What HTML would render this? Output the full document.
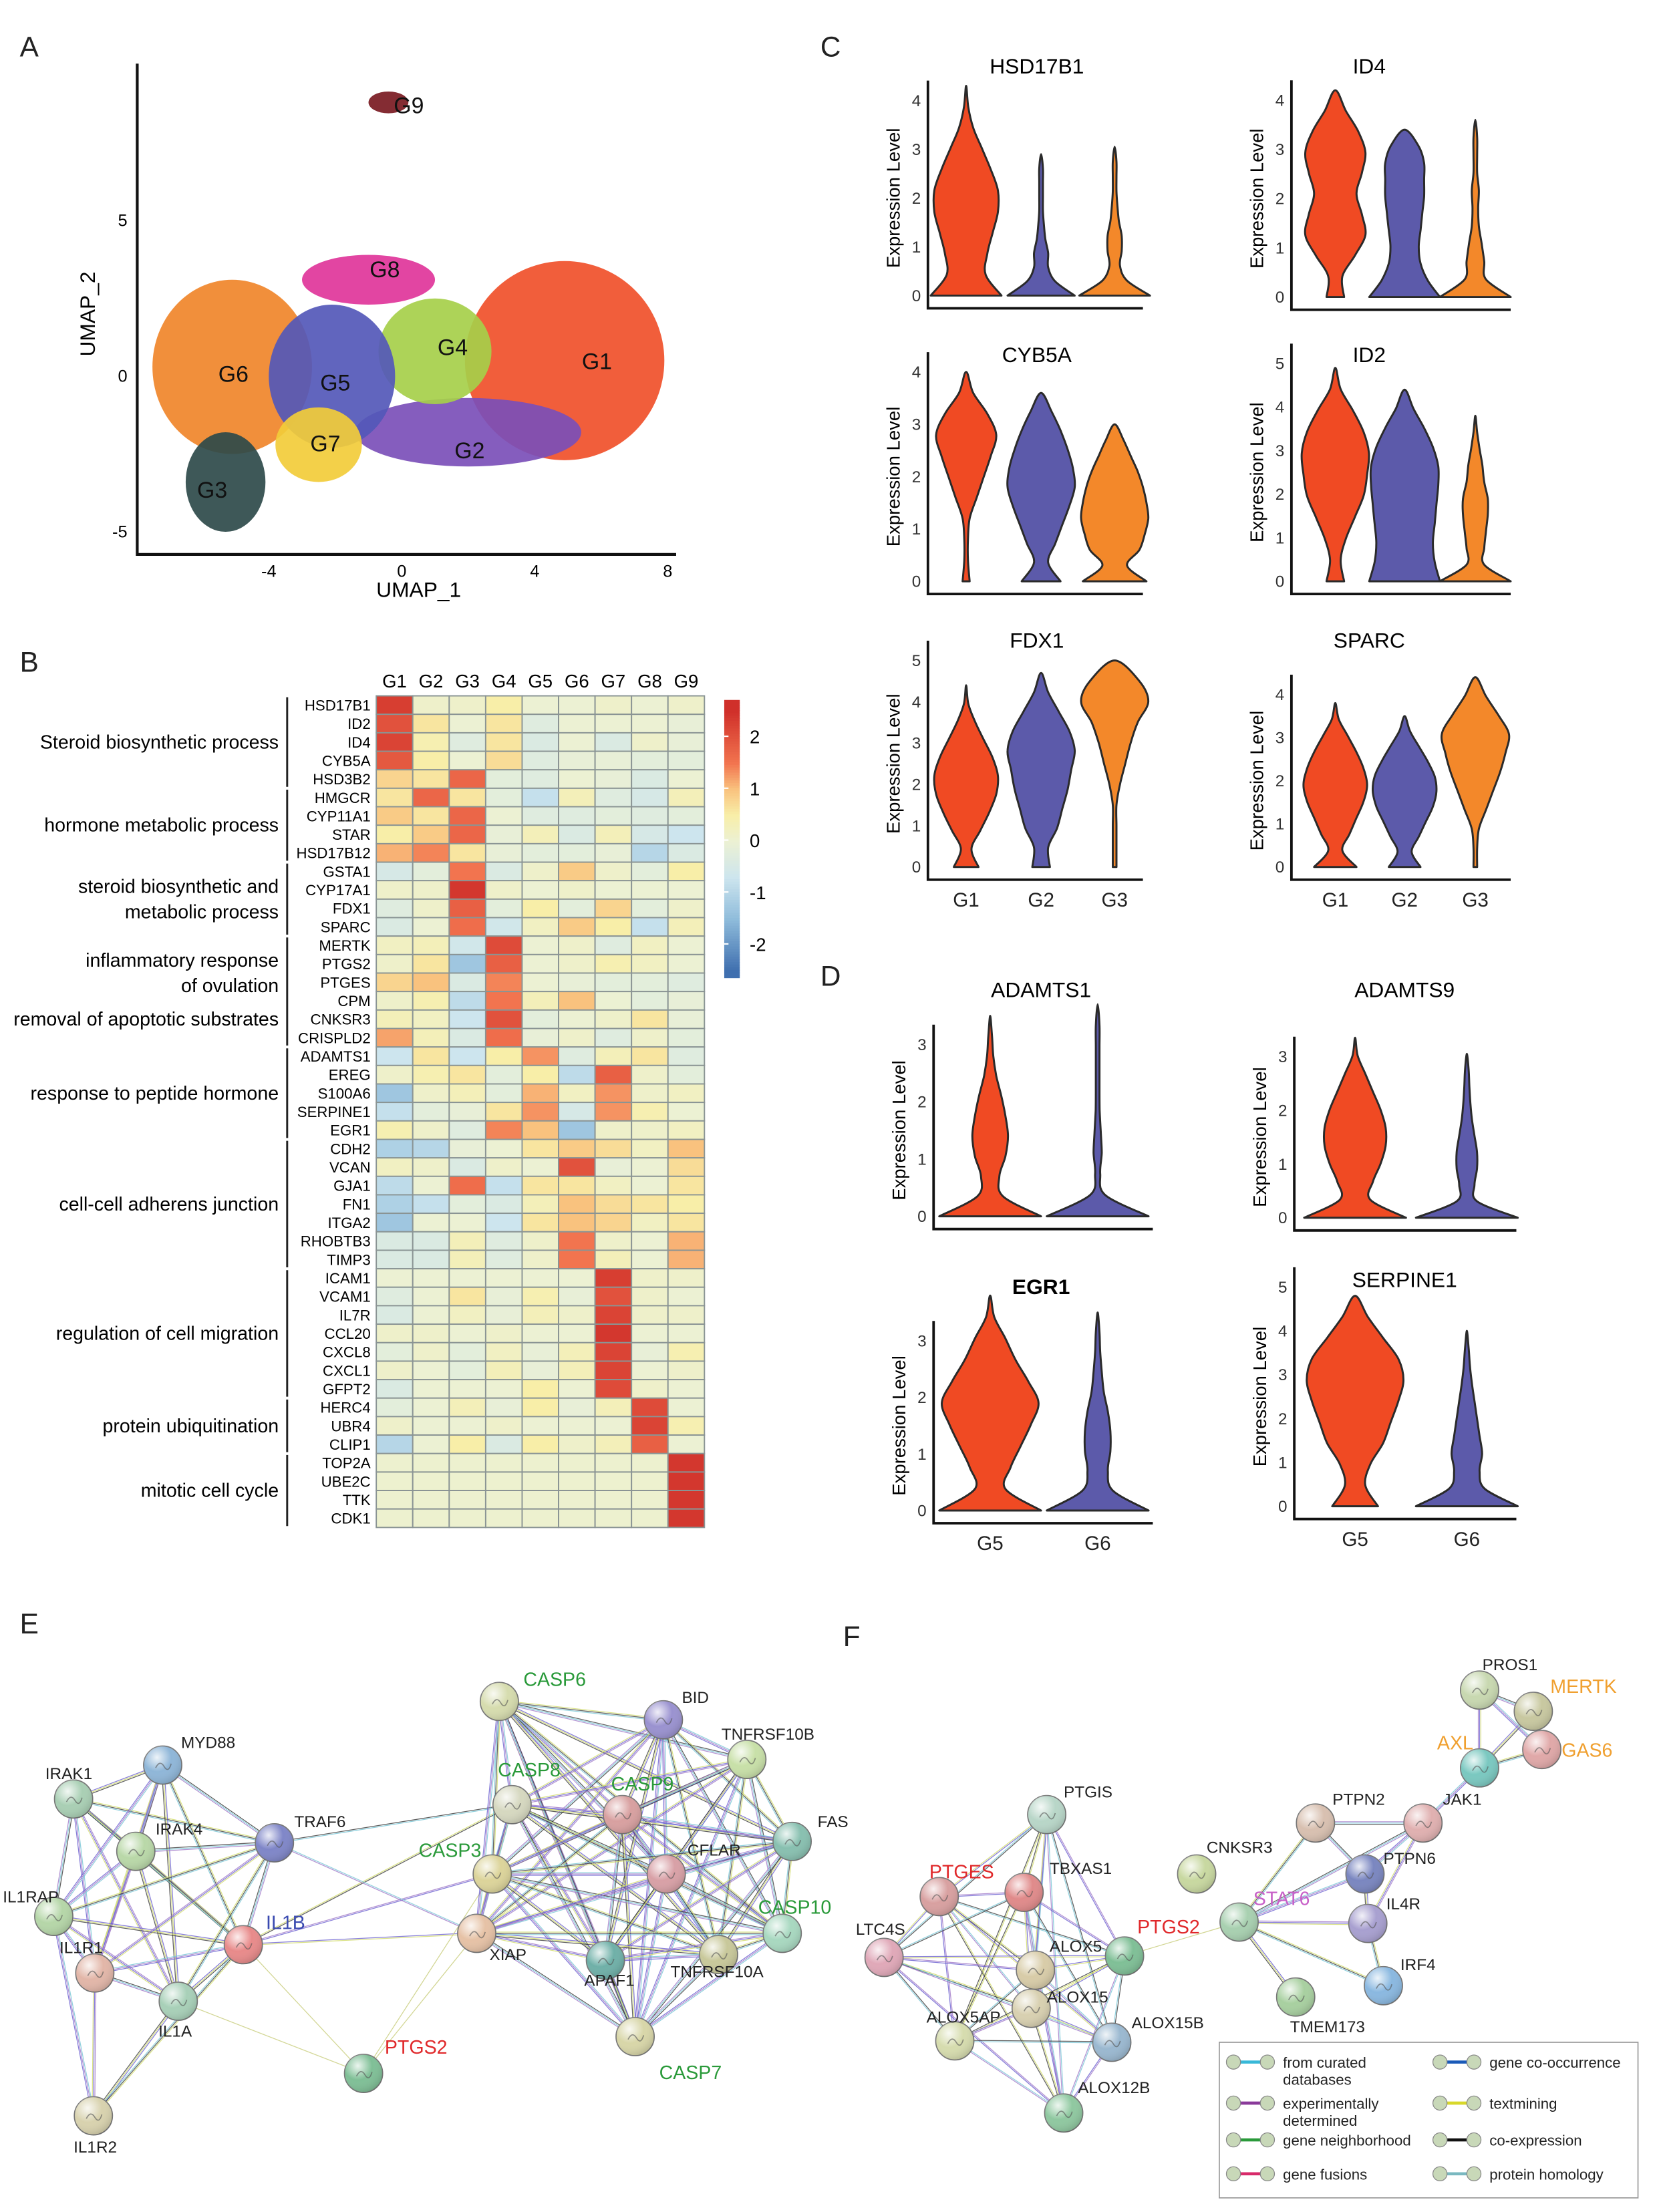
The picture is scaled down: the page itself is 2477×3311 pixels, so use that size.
<!DOCTYPE html>
<html><head><meta charset="utf-8">
<style>
html,body{margin:0;padding:0;background:#fff;}
svg{display:block;font-family:"Liberation Sans",Arial,sans-serif;}
</style></head>
<body>
<svg id="fig" xmlns="http://www.w3.org/2000/svg" width="2477" height="3311" viewBox="0 0 1170 1564">
<defs>
<radialGradient id="nodeGrad" cx="35%" cy="30%" r="75%"><stop offset="0" stop-color="#fff" stop-opacity="0.85"/><stop offset="0.5" stop-color="#fff" stop-opacity="0"/><stop offset="1" stop-color="#000" stop-opacity="0.15"/></radialGradient>
</defs>
<g font-size="20" fill="#222">
<text x="14" y="40">A</text>
<text x="14" y="475">B</text>
<text x="580" y="40">C</text>
<text x="580" y="697">D</text>
<text x="14" y="1155">E</text>
<text x="596" y="1164">F</text>
</g>
<g id="umap"></g>
<g id="heat"></g>
<g id="violins"></g>
<g id="netE"></g>
<g id="netF"></g>
</svg>
<script>
// ===== UMAP data =====
const umapClusters = ["G1","G2","G4","G6","G5","G7","G3","G8","G9"];
const umapCx = [4.9, 2.0, 1.0, -5.1, -2.1, -2.5, -5.3, -1.0, -0.4];
const umapCy = [0.5, -1.8, 0.8, 0.3, 0.0, -2.2, -3.4, 3.1, 8.8];
const umapRx = [3.0, 3.4, 1.7, 2.4, 1.9, 1.3, 1.2, 2.0, 0.6];
const umapRy = [3.2, 1.1, 1.7, 2.8, 2.3, 1.2, 1.6, 0.8, 0.35];
const umapColors = ["#f0502a","#7b4fb8","#a6cf4a","#f0862a","#5458b8","#f2cc3a","#2e4a4a","#e0359a","#7a1a22"];
const umapXTicks = [-4, 0, 4, 8];
const umapYTicks = [-5, 0, 5];

// ===== Heatmap data =====
const heatGenes = ["HSD17B1","ID2","ID4","CYB5A","HSD3B2","HMGCR","CYP11A1","STAR","HSD17B12","GSTA1","CYP17A1","FDX1","SPARC","MERTK","PTGS2","PTGES","CPM","CNKSR3","CRISPLD2","ADAMTS1","EREG","S100A6","SERPINE1","EGR1","CDH2","VCAN","GJA1","FN1","ITGA2","RHOBTB3","TIMP3","ICAM1","VCAM1","IL7R","CCL20","CXCL8","CXCL1","GFPT2","HERC4","UBR4","CLIP1","TOP2A","UBE2C","TTK","CDK1"];
const heatGroups = ["G1","G2","G3","G4","G5","G6","G7","G8","G9"];
const heatValues = [
[2.3,0.1,0.1,0.5,0,0,0.1,0,0.1],
[2.0,0.6,0,0.6,-0.3,0,0,0,-0.1],
[2.2,0.4,-0.3,0.6,-0.4,0,-0.4,0.1,-0.1],
[1.9,0.5,0,0.7,-0.3,-0.1,-0.1,-0.2,-0.2],
[0.8,0.6,1.7,-0.2,-0.3,0,-0.1,-0.4,0],
[0.6,1.7,0.6,-0.2,-0.8,0.3,-0.3,-0.5,0.3],
[0.9,0.6,1.7,0,-0.3,-0.3,-0.2,-0.3,-0.2],
[0.5,0.9,1.7,-0.1,0.3,-0.4,0.3,-0.5,-0.7],
[1.1,1.4,0.6,-0.1,-0.2,-0.2,-0.1,-1.0,-0.4],
[-0.5,-0.2,1.5,-0.4,0.1,0.9,0.1,-0.2,0.5],
[0.1,0.1,2.4,0.1,0,0.1,0,0,0],
[-0.3,0.1,1.8,-0.2,0.5,-0.2,0.8,-0.2,0.1],
[-0.4,0,1.6,-0.6,0.2,0.9,0.5,-0.8,0.3],
[0.2,0.3,-0.6,2.1,0,0.1,-0.3,0.2,0],
[0.1,0.6,-1.3,1.8,0,0.1,0.4,0.2,0],
[0.8,1.0,-0.4,1.4,0,-0.1,-0.2,-0.2,-0.3],
[0.1,0.4,-0.9,1.5,0.3,1.0,0,-0.2,-0.1],
[0.3,0.2,-0.7,2.0,-0.2,0,0.1,0.6,-0.1],
[1.2,0.3,-0.4,1.6,-0.1,0.1,-0.3,0.1,-0.2],
[-0.7,0.6,-0.7,0.5,1.3,-0.3,0.3,0.6,-0.3],
[0.1,0.4,0.6,-0.2,0.5,-0.9,1.8,0.1,-0.2],
[-1.3,0.1,0.3,-0.2,1.1,0.2,1.3,0.1,0.2],
[-0.8,-0.2,-0.1,0.6,1.3,-0.5,1.3,0.4,0],
[0.4,0.1,-0.3,1.4,1.0,-1.3,0.1,0.1,0.2],
[-1.1,-1.0,-0.1,0,0.6,0.9,0.7,0.2,1.0],
[0.2,0.1,-0.4,0.1,0,2.0,-0.1,0,0.7],
[-0.9,0,1.6,-0.8,0.6,0.6,0.2,0,0.6],
[-1.1,-0.8,-0.2,-0.4,0.3,1.0,0.7,0.6,0.5],
[-1.3,0,0,-0.7,0.6,1.0,0.8,0.2,0.6],
[-0.4,-0.4,0.3,-0.3,0.1,1.5,0.1,0,1.1],
[-0.4,-0.4,0.3,-0.3,0.1,1.5,0.3,0,1.1],
[0,0,0,0,0,0,2.3,0.1,0.1],
[-0.3,0,0.6,-0.1,0.4,-0.1,2.0,0.1,0],
[-0.4,0,0.2,-0.1,0.3,0.1,2.2,0.1,0.1],
[0.1,0.1,0,0.1,0,0,2.4,0,0],
[-0.2,0.1,-0.2,0.2,-0.1,0.3,2.2,-0.1,0.4],
[0.1,0,-0.2,0.3,-0.1,0.3,2.2,0,0.1],
[-0.4,0,0,0,0.5,0,2.1,0.1,0],
[-0.2,0,0.3,-0.1,0.5,-0.1,0.3,2.1,0],
[0.1,0,0,0.1,0,0,0,2.2,0.4],
[-1.0,0,0.5,-0.4,0.5,0.1,0.3,1.8,0],
[0.05,0.05,0.05,0.05,0.05,0.05,0.05,0.05,2.4],
[0.05,0.05,0.05,0.05,0.05,0.05,0.05,0.05,2.4],
[0.05,0.05,0.05,0.05,0.05,0.05,0.05,0.05,2.4],
[0.05,0.05,0.05,0.05,0.05,0.05,0.05,0.05,2.4]
];
const colorbarTicks = [2,1,0,-1,-2];
const termLabels = [["Steroid biosynthetic process"],["hormone metabolic process"],["steroid biosynthetic and","metabolic process"],["inflammatory response","of ovulation"],["removal of apoptotic substrates"],["response to peptide hormone"],["cell-cell adherens junction"],["regulation of cell migration"],["protein ubiquitination"],["mitotic cell cycle"]];
const termStart = [0,5,9,13,16,19,24,31,38,41];
const termEnd   = [4,8,12,16,18,23,30,37,40,44];

// ===== Violin data =====
const violinTitles = ["HSD17B1","ID4","CYB5A","ID2","FDX1","SPARC","ADAMTS1","ADAMTS9","EGR1","SERPINE1"];
const violinYMax = [4,4,4,5,5,4,3,3,3,5];
const violinGroupsC = ["G1","G2","G3"];
const violinGroupsD = ["G5","G6"];
const vMax = [
[4.3,2.9,3.05],[4.2,3.4,3.6],[4.0,3.6,3.0],[4.9,4.4,3.8],[4.4,4.7,5.0],[3.8,3.5,4.4],
[3.5,3.7],[3.35,3.05],[3.8,3.5],[4.8,4.0]];
const vDens = [
[[1.0,0.55,0.6,0.75,0.9,0.9,0.7,0.45,0.2,0.06,0],[0.95,0.4,0.2,0.2,0.12,0.08,0.05,0.04,0.03,0.02,0],[1.0,0.35,0.15,0.2,0.2,0.12,0.08,0.05,0.03,0.02,0]],
[[0.25,0.2,0.55,0.85,0.75,0.6,0.75,0.85,0.65,0.3,0],[1.0,0.65,0.45,0.4,0.45,0.5,0.55,0.55,0.55,0.4,0],[1.0,0.3,0.25,0.18,0.1,0.08,0.1,0.05,0.03,0.02,0]],
[[0.1,0.05,0.05,0.1,0.3,0.5,0.7,0.85,0.6,0.2,0],[0.55,0.2,0.4,0.6,0.8,0.95,0.9,0.75,0.55,0.3,0],[0.9,0.35,0.7,0.85,0.95,0.9,0.8,0.65,0.45,0.25,0]],
[[0.25,0.15,0.3,0.55,0.8,0.9,0.95,0.8,0.5,0.15,0],[1.0,0.85,0.8,0.85,0.9,0.95,0.95,0.8,0.55,0.25,0],[1.0,0.25,0.25,0.3,0.35,0.35,0.25,0.2,0.12,0.05,0]],
[[0.35,0.15,0.4,0.65,0.85,0.9,0.75,0.5,0.25,0.06,0],[0.25,0.2,0.45,0.6,0.75,0.85,0.95,0.8,0.5,0.2,0],[0.03,0.03,0.03,0.05,0.15,0.3,0.45,0.65,0.95,0.7,0]],
[[0.6,0.2,0.4,0.6,0.8,0.9,0.8,0.6,0.35,0.1,0],[0.45,0.2,0.4,0.6,0.8,0.9,0.85,0.65,0.4,0.15,0],[0.03,0.03,0.1,0.3,0.5,0.7,0.85,0.95,0.65,0.3,0]],
[[1.0,0.25,0.18,0.3,0.35,0.3,0.22,0.12,0.06,0.03,0],[1.0,0.15,0.05,0.08,0.06,0.04,0.03,0.02,0.02,0.01,0]],
[[1.0,0.3,0.35,0.5,0.6,0.6,0.5,0.35,0.2,0.05,0],[1.0,0.2,0.15,0.2,0.2,0.15,0.1,0.07,0.05,0.02,0]],
[[1.0,0.3,0.4,0.6,0.8,0.95,0.75,0.5,0.3,0.08,0],[1.0,0.3,0.2,0.25,0.25,0.2,0.12,0.08,0.05,0.02,0]],
[[0.45,0.2,0.3,0.55,0.7,0.85,0.95,0.85,0.55,0.25,0],[1.0,0.35,0.25,0.3,0.25,0.2,0.15,0.1,0.06,0.03,0]]
];

const NS="http://www.w3.org/2000/svg";
function mk(parent, tag, attrs, txt){const e=document.createElementNS(NS,tag);for(const k in attrs)e.setAttribute(k,attrs[k]);if(txt!==undefined)e.textContent=txt;parent.appendChild(e);return e;}

// ===== UMAP =====
(function(){
const g=document.getElementById('umap');
const sx=v=>284+v*23.5, sy=v=>266-v*22;
umapClusters.forEach((c,i)=>{
  const el=mk(g,'ellipse',{cx:sx(umapCx[i]),cy:sy(umapCy[i]),rx:umapRx[i]*23.5,ry:umapRy[i]*22,fill:umapColors[i],opacity:0.92});
  
  
});
const ax=mk(g,'path',{d:'M97,45 L97,392 L478,392',fill:'none',stroke:'#111','stroke-width':2});


umapXTicks.forEach(v=>{const t=mk(g,'text',{x:sx(v),y:408,'font-size':12,'text-anchor':'middle'},String(v));

});
umapYTicks.forEach(v=>{const t=mk(g,'text',{x:90,y:sy(v)+4,'font-size':12,'text-anchor':'end'},String(v));

});
const xl=mk(g,'text',{x:296,y:422,'font-size':15,'text-anchor':'middle'},'UMAP_1');


const yl=mk(g,'text',{x:0,y:0,'font-size':15,'text-anchor':'middle',transform:'translate(67,222) rotate(-90)'},'UMAP_2');


const labPos={G9:[289,80],G8:[272,196],G4:[320,251],G1:[422,261],G6:[165,270],G5:[237,276],G7:[230,319],G2:[332,324],G3:[150,352]};
for(const k in labPos){const t=mk(g,'text',{x:labPos[k][0],y:labPos[k][1],'font-size':16,'text-anchor':'middle',fill:'#111'},k);

}
})();

// ===== Heatmap =====
(function(){
const g=document.getElementById('heat');
const x0=266,y0=492,cw=232/9,rh=588/45;
const stops=[[-2.5,[63,111,175]],[-1.5,[143,188,219]],[-0.7,[205,229,238]],[0,[236,241,211]],[0.5,[248,238,168]],[1.0,[249,194,126]],[1.5,[242,116,79]],[2.5,[208,48,42]]];
function col(v){if(v<=stops[0][0])return 'rgb('+stops[0][1]+')';for(let i=1;i<stops.length;i++){if(v<=stops[i][0]){const a=stops[i-1],b=stops[i],t=(v-a[0])/(b[0]-a[0]);return 'rgb('+a[1].map((c,j)=>Math.round(c+(b[1][j]-c)*t)).join(',')+')';}}return 'rgb('+stops[stops.length-1][1]+')';}
heatValues.forEach((row,r)=>row.forEach((v,c)=>{
  const el=mk(g,'rect',{x:x0+c*cw,y:y0+r*rh,width:cw,height:rh,fill:col(v),stroke:'#8a9494','stroke-width':0.9});
  
  
}));
heatGroups.forEach((gname,c)=>{const t=mk(g,'text',{x:x0+(c+0.5)*cw,y:486,'font-size':13,'text-anchor':'middle'},gname);

});
heatGenes.forEach((gn,r)=>{const t=mk(g,'text',{x:262,y:y0+(r+0.5)*rh+3.8,'font-size':10.5,'text-anchor':'end'},gn);

});
termLabels.forEach((lines,i)=>{
  if(i!==4){const endRow=(i===3)?termEnd[4]:termEnd[i];
  const l=mk(g,'line',{x1:203,x2:203,y1:y0+termStart[i]*rh+1,y2:y0+(endRow+1)*rh-1,stroke:'#222','stroke-width':1.4});
  
  }
  const midRow=(termStart[i]+termEnd[i]+1)/2;
  const cy=y0+midRow*rh;
  lines.forEach((ln,j)=>{const t=mk(g,'text',{x:197,y:cy+4.5+(j-(lines.length-1)/2)*18,'font-size':13.5,'text-anchor':'end'},ln);
  
  });
});
// colorbar
const cbx=512,cbw=11,sy=v=>594-v*36.7;
for(let v=2.7;v>-2.6;v-=0.05){const r=mk(g,'rect',{x:cbx,y:sy(v),width:cbw,height:2.2,fill:col(v)});

}
colorbarTicks.forEach(v=>{const t=mk(g,'text',{x:530,y:sy(v)+5,'font-size':13},String(v));


const l=mk(g,'line',{x1:cbx,x2:cbx+3,y1:sy(v),y2:sy(v),stroke:'#fff','stroke-width':1});

});
})();

// ===== Violins =====
(function(){
const g=document.getElementById('violins');
const panels=[
 {ax:656,x1:808,zero:209,unit:34.5,cx:[683,736,788],hw:25,title:[733,52],xl:false},
 {ax:913,x1:1068,zero:210,unit:34.8,cx:[944,993,1043],hw:25,title:[968,52],xl:false},
 {ax:656,x1:808,zero:411,unit:37,cx:[683,736,788],hw:25,title:[733,256],xl:false},
 {ax:913,x1:1068,zero:411,unit:30.8,cx:[944,993,1043],hw:25,title:[968,256],xl:false},
 {ax:656,x1:808,zero:613,unit:29.2,cx:[683,736,788],hw:25,title:[733,458],xl:true},
 {ax:913,x1:1068,zero:613,unit:30.5,cx:[944,993,1043],hw:25,title:[968,458],xl:true},
 {ax:660,x1:815,zero:860,unit:40.5,cx:[700,776],hw:36,title:[736,705],xl:false},
 {ax:915,x1:1072,zero:861,unit:38,cx:[958,1037],hw:36,title:[993,705],xl:false},
 {ax:660,x1:815,zero:1068,unit:40,cx:[700,776],hw:36,title:[736,915],xl:true,bold:true},
 {ax:915,x1:1072,zero:1065,unit:31,cx:[958,1037],hw:36,title:[993,910],xl:true}
];
const cols3=['#f04a23','#5c5aaa','#f3882a'];
function smooth(pts){let d='M'+pts[0][0]+','+pts[0][1];for(let i=0;i<pts.length-1;i++){const p0=pts[Math.max(0,i-1)],p1=pts[i],p2=pts[i+1],p3=pts[Math.min(pts.length-1,i+2)];
d+=' C'+(p1[0]+(p2[0]-p0[0])/6).toFixed(1)+','+(p1[1]+(p2[1]-p0[1])/6).toFixed(1)+' '+(p2[0]-(p3[0]-p1[0])/6).toFixed(1)+','+(p2[1]-(p3[1]-p1[1])/6).toFixed(1)+' '+p2[0].toFixed(1)+','+p2[1].toFixed(1);}return d;}
panels.forEach((p,pi)=>{
  const isD=pi>=6;const groups=isD?violinGroupsD:violinGroupsC;
  const top=p.zero-violinYMax[pi]*p.unit-14;
  const ax=mk(g,'path',{d:'M'+p.ax+','+top+' L'+p.ax+','+(p.zero+9)+' L'+p.x1+','+(p.zero+9),fill:'none',stroke:'#111','stroke-width':1.8});
  
  
  for(let v=0;v<=violinYMax[pi];v++){const t=mk(g,'text',{x:p.ax-5,y:p.zero-v*p.unit+4,'font-size':11.5,'text-anchor':'end',fill:'#333'},String(v));
  
  }
  const tt=mk(g,'text',{x:p.title[0],y:p.title[1],'font-size':15,'text-anchor':'middle','font-weight':p.bold?'bold':'normal'},violinTitles[pi]);
  
  
  const ymid=p.zero-violinYMax[pi]*p.unit/2;
  const yl=mk(g,'text',{x:0,y:0,'font-size':13,'text-anchor':'middle',transform:'translate('+(p.ax-20)+','+ymid+') rotate(-90)'},'Expression Level');
  
  
  groups.forEach((gn,k)=>{
    const mx=vMax[pi][k],dens=vDens[pi][k],n=dens.length;const cx=p.cx[k];
    const right=[],left=[];
    for(let j=0;j<n;j++){const y=p.zero-(mx*j/(n-1))*p.unit;const w=Math.max(dens[j]*p.hw,1.3);right.push([cx+w,y]);}
    right[n-1]=[cx,p.zero-mx*p.unit];
    for(let j=n-1;j>=0;j--)left.push([2*cx-right[j][0],right[j][1]]);
    left[0]=[cx,p.zero-mx*p.unit];
    const pts=right.concat(left.slice(1));
    const color=isD?cols3[k]:cols3[k];
    const v=mk(g,'path',{d:smooth(pts)+' Z',fill:color,stroke:'#2a2a2a','stroke-width':1.4,'stroke-linejoin':'round'});
    
    
    if(p.xl){const t=mk(g,'text',{x:cx,y:p.zero+28,'font-size':14,'text-anchor':'middle',fill:'#222'},gn);
    
    }
  });
});
})();

// ===== Networks =====
const edgeCols=['#6a5fd0','#d2dc6a','#3a3a3a','#77c6d6','#a078c8'];
function drawNet(gid,nodes,labels,edges,prefix){
  const g=document.getElementById(gid);
  const eg=mk(g,'g',{});
  
  
  edges.forEach((e,i)=>{
    const a=nodes[e[0]],b=nodes[e[1]];if(!a||!b)return;
    const dx=b[0]-a[0],dy=b[1]-a[1],L=Math.hypot(dx,dy)||1,nx=-dy/L,ny=dx/L;
    const k=e[2]||3;
    for(let j=0;j<k;j++){const o=(j-(k-1)/2)*0.9;
      const l=mk(eg,'line',{x1:a[0]+nx*o,y1:a[1]+ny*o,x2:b[0]+nx*o,y2:b[1]+ny*o,stroke:e[3]||edgeCols[(i+j)%edgeCols.length],'stroke-width':0.6,opacity:0.8});
      
      }
  });
  for(const n in nodes){const [x,y,c]=nodes[n];
    const ng=mk(g,'g',{});
    
    
    mk(ng,'circle',{cx:x,cy:y,r:13.5,fill:c,stroke:'#777','stroke-width':0.8});
    mk(ng,'circle',{cx:x,cy:y,r:13.5,fill:'url(#nodeGrad)'});
    mk(ng,'path',{d:'M'+(x-5)+','+(y+2)+' q3,-6 6,-1 t5,-2',fill:'none',stroke:'#555','stroke-width':0.8,opacity:0.6});
  }
  for(const n in labels){const [x,y,col,anchor]=labels[n];
    const t=mk(g,'text',{x:x,y:y,'font-size':(col==='#222'?11.5:13.5),fill:col,'text-anchor':anchor||'start'},n);
    
    }
}
const eNodes={IRAK1:[52,1272,'#a9cfb4'],MYD88:[115,1248,'#8fb6d8'],IRAK4:[96,1309,'#b9d8a8'],TRAF6:[194,1303,'#7f86c8'],IL1RAP:[38,1355,'#b5d6a8'],IL1R1:[67,1395,'#e2b6a8'],IL1A:[126,1415,'#a8d0b8'],IL1B:[172,1375,'#e88a8a'],IL1R2:[66,1496,'#d8d2ae'],PTGS2:[257,1466,'#7fbf96'],CASP6:[353,1203,'#d6dcae'],BID:[469,1216,'#9a92d0'],TNFRSF10B:[528,1244,'#c8e0a8'],CASP8:[362,1276,'#d6d8c0'],CASP9:[440,1283,'#d8a0a0'],FAS:[560,1302,'#88c0b0'],CASP3:[348,1325,'#dcd49a'],CFLAR:[471,1325,'#d8a0a6'],XIAP:[337,1367,'#e6c2a6'],APAF1:[428,1386,'#6fb0a8'],TNFRSF10A:[508,1382,'#c8c89a'],CASP10:[553,1367,'#a8d8c0'],CASP7:[449,1440,'#d8d6a8']};
const G='#2a9a3a',R='#e0282a',B='#3a4ab0',K='#222';
const eLabels={MYD88:[128,1236,K],IRAK1:[32,1258,K],IRAK4:[110,1297,K],TRAF6:[208,1292,K],IL1RAP:[2,1345,K],IL1R1:[42,1381,K],IL1A:[112,1440,K],IL1B:[188,1364,B],IL1R2:[52,1522,K],PTGS2:[272,1452,R],CASP6:[370,1192,G],BID:[482,1204,K],TNFRSF10B:[510,1230,K],CASP8:[352,1256,G],CASP9:[432,1266,G],FAS:[578,1292,K],CASP3:[296,1313,G],CFLAR:[486,1312,K],XIAP:[346,1386,K],APAF1:[413,1404,K],TNFRSF10A:[474,1398,K],CASP10:[536,1353,G],CASP7:[466,1470,G]};
const eEdges=[];
(function(){const c1=['IRAK1','MYD88','IRAK4','IL1RAP','IL1R1','IL1A','IL1B','TRAF6'];
for(let i=0;i<c1.length;i++)for(let j=i+1;j<c1.length;j++)eEdges.push([c1[i],c1[j],3]);
['IL1RAP','IL1R1','IL1A','IL1B'].forEach(n=>eEdges.push([n,'IL1R2',3]));
eEdges.push(['IL1B','PTGS2',1,'#c8cc7a'],['IL1A','PTGS2',1,'#c8cc7a'],['IL1B','CASP3',2],['IL1B','XIAP',2],['IL1B','CASP8',2],['TRAF6','CASP8',2],['TRAF6','XIAP',2],['PTGS2','CASP3',1,'#c8cc7a'],['PTGS2','XIAP',1,'#c8cc7a']);
const c2=['CASP6','BID','TNFRSF10B','CASP8','CASP9','FAS','CASP3','CFLAR','XIAP','APAF1','TNFRSF10A','CASP10','CASP7'];
for(let i=0;i<c2.length;i++)for(let j=i+1;j<c2.length;j++)eEdges.push([c2[i],c2[j],3]);})();
drawNet('netE',eNodes,eLabels,eEdges,'network-e');

const fNodes={PTGIS:[740,1283,'#b8d6c8'],PTGES:[664,1341,'#d8a0a0'],TBXAS1:[724,1338,'#e08a8a'],LTC4S:[625,1384,'#e0a8b8'],ALOX5:[732,1393,'#d8cca8'],PTGS2:[795,1383,'#7fbf96'],ALOX15:[729,1420,'#d8d0b0'],ALOX5AP:[675,1443,'#d6dcae'],ALOX15B:[786,1444,'#9ab8d0'],ALOX12B:[752,1494,'#8fc8a0'],CNKSR3:[846,1325,'#c8d8a0'],STAT6:[876,1359,'#a8d0b0'],PTPN2:[930,1289,'#d8c0b0'],JAK1:[1006,1289,'#e0b0b0'],PTPN6:[965,1325,'#7a86c0'],IL4R:[967,1360,'#a8a0d0'],TMEM173:[916,1412,'#a8d0a0'],IRF4:[978,1404,'#8ab8e0'],AXL:[1046,1250,'#7ac8c0'],PROS1:[1046,1195,'#c8d8b0'],MERTK:[1084,1210,'#c8c8a0'],GAS6:[1090,1237,'#e0a8a8']};
const O='#f0a030',P='#c860c8';
const fLabels={PTGIS:[752,1271,K],PTGES:[657,1328,R],TBXAS1:[742,1325,K],LTC4S:[605,1368,K],ALOX5:[742,1380,K],PTGS2:[804,1367,R],ALOX15:[740,1416,K],ALOX5AP:[655,1430,K],ALOX15B:[800,1434,K],ALOX12B:[762,1480,K],CNKSR3:[853,1310,K],STAT6:[886,1347,P],PTPN2:[942,1276,K],JAK1:[1020,1276,K],PTPN6:[978,1318,K],IL4R:[980,1350,K],TMEM173:[912,1437,K],IRF4:[990,1393,K],AXL:[1016,1237,O],PROS1:[1048,1181,K],MERTK:[1096,1197,O],GAS6:[1104,1242,O]};
const fEdges=[];
(function(){const c1=['PTGIS','PTGES','TBXAS1','LTC4S','ALOX5','PTGS2','ALOX15','ALOX5AP','ALOX15B','ALOX12B'];
for(let i=0;i<c1.length;i++)for(let j=i+1;j<c1.length;j++)fEdges.push([c1[i],c1[j],2]);
fEdges.push(['PTGS2','STAT6',1,'#c8cc7a']);
[['STAT6','PTPN2'],['STAT6','JAK1'],['STAT6','PTPN6'],['STAT6','IL4R'],['STAT6','TMEM173'],['STAT6','IRF4'],['JAK1','PTPN2'],['JAK1','PTPN6'],['JAK1','IL4R'],['PTPN6','IL4R'],['IL4R','IRF4'],['PTPN2','PTPN6'],['JAK1','AXL'],['AXL','PROS1'],['AXL','MERTK'],['AXL','GAS6'],['PROS1','MERTK'],['PROS1','GAS6'],['MERTK','GAS6']].forEach(e=>fEdges.push([e[0],e[1],3]));})();
drawNet('netF',fNodes,fLabels,fEdges,'network-f');

// legend
(function(){
const g=document.getElementById('netF');
const lg=mk(g,'g',{});


mk(lg,'rect',{x:862,y:1444,width:296,height:110,fill:'#fff',stroke:'#999','stroke-width':0.8});
const items=[[866,1458,'#38b8d8',['from curated','databases']],[866,1487,'#8a3a9a',['experimentally','determined']],[866,1513,'#2a9a3a',['gene neighborhood']],[866,1537,'#d82a6a',['gene fusions']],[1012,1458,'#1a5ab8',['gene co-occurrence']],[1012,1487,'#d8d82a',['textmining']],[1012,1513,'#111',['co-expression']],[1012,1537,'#7ab8c0',['protein homology']]];
items.forEach(it=>{const [x,y,c,lines]=it;
  const e=mk(lg,'g',{});
  
  
  mk(e,'line',{x1:x+6,x2:x+30,y1:y,y2:y,stroke:c,'stroke-width':2.2});
  mk(e,'circle',{cx:x+6,cy:y,r:5,fill:'#c8d8b8',stroke:'#888','stroke-width':0.6});
  mk(e,'circle',{cx:x+30,cy:y,r:5,fill:'#c8d8b8',stroke:'#888','stroke-width':0.6});
  lines.forEach((ln,j)=>mk(e,'text',{x:x+41,y:y+4+j*12,'font-size':10.5,fill:'#222'},ln));
});
})();
</script>
</body></html>
